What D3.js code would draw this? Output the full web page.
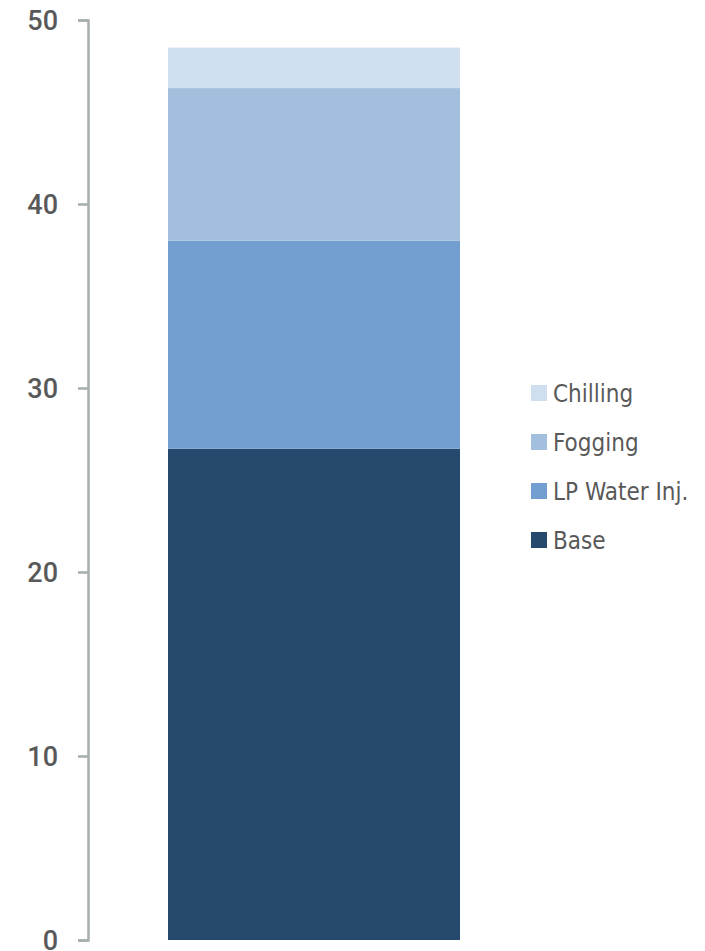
<!DOCTYPE html>
<html>
<head>
<meta charset="utf-8">
<script src="https://cdn.jsdelivr.net/npm/d3@7"></script>
<style>
  body { margin: 0; background: #fff; }
  .yAxis text { font-family: Roboto, 'Open Sans', sans-serif; font-size: 27px; font-weight: 500; fill: #595959; }
  .yAxis path, .yAxis line { stroke: #a6aeae; stroke-width: 2.5; }
  .legend text { font-family: 'Liberation Sans Narrow', 'DejaVu Sans Condensed', sans-serif; font-stretch: condensed; font-size: 24px; fill: #595959; }
</style>
</head>
<body>
<div id="chart"></div>
<script>
'use strict';
const categories = ['Total']
const seriesNames = ['Base', 'LP Water Inj.', 'Fogging', 'Chilling']
const seriesValues = [26.7, 11.3, 8.3, 2.2]
const seriesColors = ['#264a6e', '#729fcf', '#a3bfde', '#d0dff0']
const yTicks = [0, 10, 20, 30, 40, 50]

const W = 705, H = 951
const svg = d3.select('#chart').append('svg')
    .attr('width', W)
    .attr('height', H)

const y = d3.scaleLinear()
    .domain([0, 50])
    .range([940, 20])
const x = d3.scaleBand()
    .domain(categories)
    .range([88, 540])
    .paddingInner(0)
    .paddingOuter(0.274)

// stack the series on top of each other
const row = { cat: categories[0] }
seriesNames.forEach((s, i) => { row[s] = seriesValues[i] })
const stacked = d3.stack().keys(seriesNames)([row])

svg.append('g').selectAll('g')
    .data(stacked).enter().append('g')
    .attr('fill', (d, i) => seriesColors[i])
    .selectAll('rect')
    .data(d => d).enter().append('rect')
    .attr('x', d => x(d.data.cat))
    .attr('width', x.bandwidth())
    .attr('y', d => y(d[1]))
    .attr('height', d => y(d[0]) - y(d[1]))

svg.append('g') // y axis with bracket ends
    .attr('class', 'yAxis')
    .attr('transform', 'translate(88,0)')
    .call(d3.axisLeft(y).tickValues(yTicks).tickSize(10).tickPadding(20))
    .call(g => g.selectAll('text').attr('dy', '0.34em'))

// legend, top entry is the last series
const legend = svg.append('g').attr('class', 'legend')
const legendRows = seriesNames.map((s, i) => ({ name: s, color: seriesColors[i] })).reverse()
const item = legend.selectAll('g')
    .data(legendRows).enter().append('g')
    .attr('transform', (d, i) => `translate(531, ${393 + i * 49})`)
item.append('rect')
    .attr('x', 0)
    .attr('y', -8)
    .attr('width', 16)
    .attr('height', 16)
    .attr('fill', d => d.color)
item.append('text')
    .attr('x', 22)
    .attr('y', 0)
    .attr('dy', '0.36em')
    .text(d => d.name)
</script>
</body>
</html>
